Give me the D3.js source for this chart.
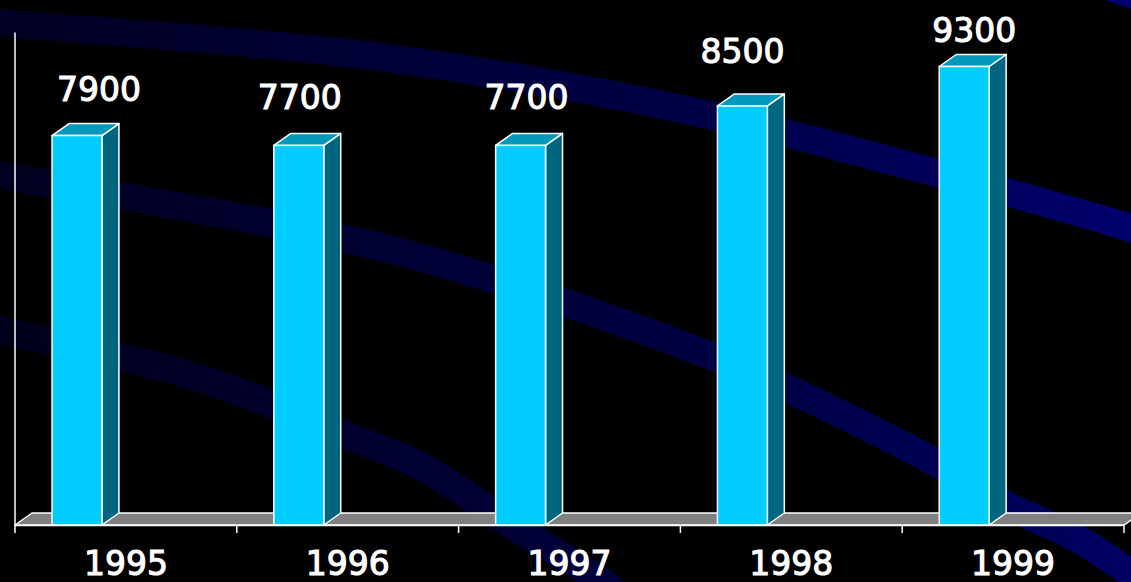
<!DOCTYPE html>
<html>
<head>
<meta charset="utf-8">
<script src="https://cdn.jsdelivr.net/npm/d3@7"></script>
<style>
  html, body { margin: 0; padding: 0; background: #000; overflow: hidden; }
  text { font-family: "DejaVu Sans", Verdana, sans-serif; }
</style>
</head>
<body>
<div id="chart"></div>
<script>
    // chart data
    var years = ["1995", "1996", "1997", "1998", "1999"];
    var values = [7900, 7700, 7700, 8500, 9300];

    // small nudges so the value labels sit where the original ones do
    var labelNudgeX = [22, 1, 6, 0, 10];
    var labelNudgeY = [-35, -36, -36, -43, -25];

    var w = 1131;
    var h = 582;
    var depthX = 17;   // 3d depth offset
    var depthY = -12;

    var svg = d3.select("#chart")
            .append("svg")
            .attr("width", w)
            .attr("height", h);

    svg.append("rect").attr("width", w).attr("height", h).attr("fill", "#000");

    // background swooshes (decoration only)
    var defs = svg.append("defs");
    var grad = defs.append("linearGradient")
        .attr("id", "swoosh")
        .attr("gradientUnits", "userSpaceOnUse")
        .attr("x1", 0).attr("y1", 350)
        .attr("x2", 1131).attr("y2", 0);
    grad.append("stop").attr("offset", "0").attr("stop-color", "#00001c");
    grad.append("stop").attr("offset", "0.6").attr("stop-color", "#000046");
    grad.append("stop").attr("offset", "1").attr("stop-color", "#000070");

    var swooshes = [
        [[-20, 21], [0, 23], [380, 57], [700, 113], [1131, 228], [1160, 238]],
        [[-20, 171], [0, 175], [400, 252], [717, 358], [780, 385], [940, 465], [1000, 502], [1080, 540], [1160, 595]],
        [[-20, 325], [0, 330], [200, 378], [340, 433], [420, 466], [515, 527], [602, 582], [640, 612]],
        [[1060, -30], [1131, -6], [1160, 4]]
    ];
    var swooshLine = d3.line().curve(d3.curveCatmullRom);
    svg.append("g").selectAll("path")
        .data(swooshes)
        .enter()
        .append("path")
        .attr("d", swooshLine)
        .attr("fill", "none")
        .attr("stroke", "url(#swoosh)")
        .attr("stroke-width", 28);

    // scales
    var x = d3.scaleBand().domain(years).range([15, 1124]);
    var y = d3.scaleLinear().domain([0, 10000]).range([525, 32]);

    var barOffset = x.bandwidth() * 0.167;
    var barWidth = x.bandwidth() * 0.225;

    // floor
    var x0 = x.range()[0], x1 = x.range()[1], y0 = y(0);
    svg.append("path")
        .attr("d", "M" + x0 + "," + y0 + "L" + x1 + "," + y0 +
                   "L" + (x1 + depthX) + "," + (y0 + depthY) +
                   "L" + (x0 + depthX) + "," + (y0 + depthY) + "Z")
        .attr("fill", "#808080")
        .attr("stroke", "#fff")
        .attr("stroke-width", 1.5)
        .attr("stroke-linejoin", "round");

    // y axis line only
    svg.append("g")
        .attr("transform", "translate(" + (x0 - 0.5) + ",0)")
        .call(d3.axisLeft(y).tickValues([]).tickSizeOuter(0))
        .call(function(g) {
            g.select(".domain").attr("stroke", "#fff").attr("stroke-width", 1.5);
        });

    // bars
    var bars = svg.selectAll("g.bar")
        .data(values)
        .enter()
        .append("g")
        .attr("class", "bar");

    function bx(i) { return x(years[i]) + barOffset; }

    // side face
    bars.append("path")
        .attr("d", function(d, i) {
            var l = bx(i) + barWidth, t = y(d);
            return "M" + l + "," + y0 + "L" + l + "," + t +
                   "L" + (l + depthX) + "," + (t + depthY) +
                   "L" + (l + depthX) + "," + (y0 + depthY) + "Z";
        })
        .attr("fill", "#00667f")
        .attr("stroke", "#fff")
        .attr("stroke-width", 1.5)
        .attr("stroke-linejoin", "round");

    // top face
    bars.append("path")
        .attr("d", function(d, i) {
            var l = bx(i), t = y(d);
            return "M" + l + "," + t + "L" + (l + barWidth) + "," + t +
                   "L" + (l + barWidth + depthX) + "," + (t + depthY) +
                   "L" + (l + depthX) + "," + (t + depthY) + "Z";
        })
        .attr("fill", "#0099bb")
        .attr("stroke", "#fff")
        .attr("stroke-width", 1.5)
        .attr("stroke-linejoin", "round");

    // front face
    bars.append("rect")
        .attr("x", function(d, i) { return bx(i); })
        .attr("y", function(d) { return y(d); })
        .attr("width", barWidth)
        .attr("height", function(d) { return y0 - y(d); })
        .attr("fill", "#00ccff")
        .attr("stroke", "#fff")
        .attr("stroke-width", 1.5);

    // value labels
    bars.append("text")
        .text(function(d) { return d; })
        .attr("x", function(d, i) { return bx(i) + barWidth / 2 + labelNudgeX[i]; })
        .attr("y", function(d, i) { return y(d) + labelNudgeY[i]; })
        .attr("text-anchor", "middle")
        .attr("fill", "#fff")
        .attr("stroke", "#fff")
        .attr("stroke-width", 1.1)
        .attr("font-size", 33);

    // x axis: line, boundary ticks, centred labels
    var xAxis = svg.append("g")
        .attr("transform", "translate(0," + y0 + ")")
        .call(d3.axisBottom(x).tickSize(0).tickPadding(0).tickSizeOuter(0));
    xAxis.select(".domain").attr("stroke", "#fff").attr("stroke-width", 1.5);
    xAxis.selectAll(".tick text")
        .attr("dy", 0)
        .attr("y", 50)
        .attr("fill", "#fff")
        .attr("stroke", "#fff")
        .attr("stroke-width", 1.1)
        .attr("font-size", 33)
        .attr("font-family", "'DejaVu Sans', Verdana, sans-serif");

    var edges = years.map(function(d) { return x(d); }).concat([x1]);
    xAxis.selectAll("line.edge")
        .data(edges)
        .enter()
        .append("line")
        .attr("class", "edge")
        .attr("x1", function(d) { return d; })
        .attr("x2", function(d) { return d; })
        .attr("y1", 0)
        .attr("y2", 8)
        .attr("stroke", "#fff")
        .attr("stroke-width", 1.5);
</script>
</body>
</html>
